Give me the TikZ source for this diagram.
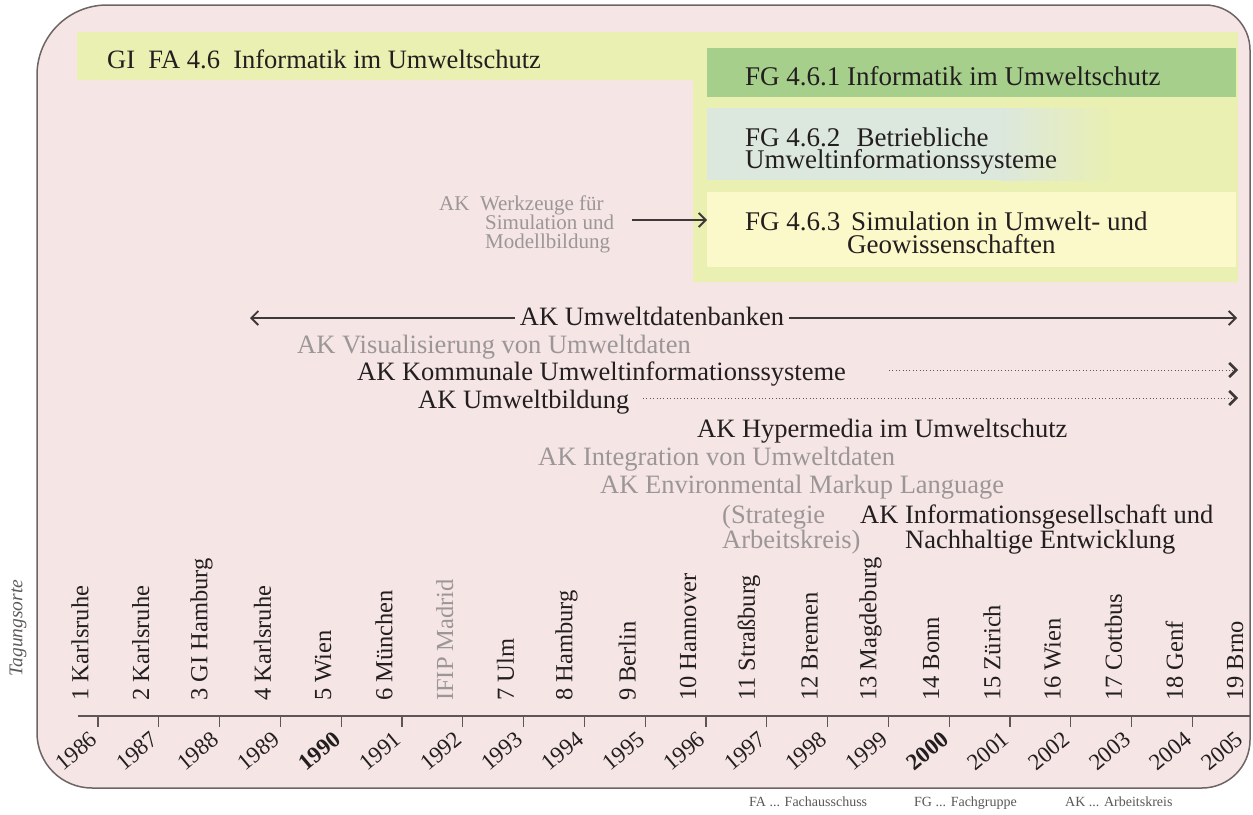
\documentclass[tikz,border=0pt]{standalone}
\usepackage{fontspec}
\setmainfont{Liberation Serif}
\usetikzlibrary{arrows.meta}
\definecolor{bgpink}{HTML}{F5E5E5}
\definecolor{framec}{HTML}{6E6466}
\definecolor{bandc}{HTML}{E9F0B2}
\definecolor{fgone}{HTML}{A6CF8C}
\definecolor{fgtwo}{HTML}{DCE7DD}
\definecolor{fgthree}{HTML}{FBF9CA}
\definecolor{darktxt}{HTML}{231E1F}
\definecolor{graytxt}{HTML}{9C9697}
\definecolor{linec}{HTML}{3E3839}
\definecolor{dotc}{HTML}{5E5658}
\definecolor{axisc}{HTML}{5E5557}
\begin{document}
\begin{tikzpicture}[x=1pt,y=-1pt,
  lbl/.style={inner sep=0pt, anchor=base west, text=darktxt, font=\fontsize{26.5}{26.5}\selectfont},
  glbl/.style={lbl, text=graytxt},
  fglbl/.style={lbl, font=\fontsize{27}{27}\selectfont},
  smalllbl/.style={lbl, text=graytxt, font=\fontsize{21}{21}\selectfont},
  place/.style={inner sep=0pt, anchor=west, rotate=90, font=\fontsize{24.5}{24.5}\selectfont},
  yearlbl/.style={inner sep=0pt, anchor=east, rotate=40, text=darktxt},
  legend/.style={inner sep=0pt, anchor=base west, text=darktxt!75, font=\fontsize{14}{14}\selectfont},
  arrowline/.style={draw=linec, line width=1.3pt},
  chev/.style={-{Straight Barb[length=7pt,width=14pt,line width=1.8pt]}},
  boldchev/.style={-{Straight Barb[length=7pt,width=14pt,line width=2.6pt,color=linec]}},
  dotline/.style={draw=dotc, line width=1pt, dash pattern=on 1pt off 2.4pt},
  axisline/.style={draw=axisc, line width=1.1pt},
]
\useasboundingbox (0,0) rectangle (1253,814);
% frame
\draw[framec, line width=1.5pt, fill=bgpink] (37,400) -- (37,75) .. controls (37,36.4) and (68.4,5) .. (107,5) -- (1205,5) .. controls (1229.8,5) and (1250,25.2) .. (1250,50) -- (1250,740) .. controls (1250,766.5) and (1228.5,788) .. (1202,788) -- (92,788) .. controls (61.6,788) and (37,763.4) .. (37,733) -- cycle;
% GI FA band
\fill[bandc] (77,32) -- (1238,32) -- (1238,282) -- (693,282) -- (693,80) -- (77,80) -- cycle;
% FG boxes
\node[fill=fgone, minimum width=529pt, minimum height=49pt, inner sep=0pt, anchor=north west] (fg1box) at (707,48) {};
\fill[fgtwo] (707,108) rectangle (1000,180);
\shade[left color=fgtwo, right color=bandc] (1000,108) rectangle (1115,180);
\node[fill=fgthree, minimum width=529pt, minimum height=75pt, inner sep=0pt, anchor=north west] (fg3box) at (707,192) {};
% texts
\node[lbl] (gifa) at (107,68) {GI\hspace{0.5em}FA 4.6\hspace{0.5em}Informatik im Umweltschutz};
\node[fglbl] (fg1t) at (745,85) {FG 4.6.1 Informatik im Umweltschutz};
\node[fglbl] (fg2a) at (745,146) {FG 4.6.2\hspace{0.6em}Betriebliche};
\node[fglbl] (fg2b) at (745,168) {Umweltinformationssysteme};
\node[fglbl] (fg3a) at (745,230) {FG 4.6.3\hspace{0.4em}Simulation in Umwelt- und};
\node[fglbl] (fg3b) at (847,253) {Geowissenschaften};
% AK Werkzeuge
\node[smalllbl] (wk1) at (439,210) {AK\hspace{0.5em}Werkzeuge für};
\node[smalllbl] (wk2) at (485,229) {Simulation und};
\node[smalllbl] (wk3) at (485,248) {Modellbildung};
\coordinate (wkarr) at (632,220);
\draw[arrowline, chev] (wkarr) -- (wkarr -| fg3box.west);
% AK Umweltdatenbanken
\node[lbl, anchor=base] (udb) at (652,325) {AK Umweltdatenbanken};
\coordinate (udbL) at (250,318);
\coordinate (udbR) at (1237,318);
\coordinate (udbLin) at ([xshift=-5pt]udb.west);
\coordinate (udbRin) at ([xshift=5pt]udb.east);
\draw[arrowline, chev] (udbLin |- udbL) -- (udbL);
\draw[arrowline, chev] (udbRin |- udbR) -- (udbR);
% other AK
\node[glbl] (vis) at (297,353) {AK Visualisierung von Umweltdaten};
\node[lbl] (kom) at (357,380) {AK Kommunale Umweltinformationssysteme};
\coordinate (komS) at (889,370);
\coordinate (komE) at (1238,370);
\draw[dotline, boldchev] (komS) -- (komE);
\node[lbl] (ubl) at (418,408) {AK Umweltbildung};
\coordinate (ublS) at (643,398);
\coordinate (ublE) at (1238,398);
\draw[dotline, boldchev] (ublS) -- (ublE);
\node[lbl] (hyp) at (697,437) {AK Hypermedia im Umweltschutz};
\node[glbl] (integ) at (538,465) {AK Integration von Umweltdaten};
\node[glbl] (eml) at (600,493) {AK Environmental Markup Language};
\node[glbl] (strat1) at (722,523) {(Strategie};
\node[glbl] (strat2) at (722,548) {Arbeitskreis)};
\node[lbl] (info1) at (860,523) {AK Informationsgesellschaft und};
\node[lbl] (info2) at (905,548) {Nachhaltige Entwicklung};
% Tagungsorte
\node[rotate=90, inner sep=0pt, text=graytxt!60!black, font=\itshape\fontsize{19.5}{19.5}\selectfont] (tag) at (18,628) {Tagungsorte};
% places
\foreach \pl/\col [count=\i from 0] in {1 Karlsruhe/darktxt, 2 Karlsruhe/darktxt, 3 GI Hamburg/darktxt, 4 Karlsruhe/darktxt, 5 Wien/darktxt, 6 München/darktxt, IFIP Madrid/graytxt, 7 Ulm/darktxt, 8 Hamburg/darktxt, 9 Berlin/darktxt, 10 Hannover/darktxt, 11 Straßburg/darktxt, 12 Bremen/darktxt, 13 Magdeburg/darktxt, 14 Bonn/darktxt, 15 Zürich/darktxt, 16 Wien/darktxt, 17 Cottbus/darktxt, 18 Genf/darktxt, 19 Brno/darktxt}
  \node[place, text=\col] (p\i) at ({80+60.8*\i},701) {\pl};
% axis
\coordinate (axL) at (78,716);
\coordinate (axR) at (1250,716);
\draw[axisline] (axL) -- (axR);
\foreach \i in {0,...,18}
  \draw[axisline] ({98+60.8*\i},716) -- ++(0,11);
% years
\foreach \yr/\ff [count=\i from 0] in {1986/\mdseries, 1987/\mdseries, 1988/\mdseries, 1989/\mdseries, 1990/\bfseries, 1991/\mdseries, 1992/\mdseries, 1993/\mdseries, 1994/\mdseries, 1995/\mdseries, 1996/\mdseries, 1997/\mdseries, 1998/\mdseries, 1999/\mdseries, 2000/\bfseries, 2001/\mdseries, 2002/\mdseries, 2003/\mdseries, 2004/\mdseries}
  \node[yearlbl, font=\fontsize{23}{23}\selectfont\ff] (y\i) at ({94+60.8*\i},736) {\yr};
\node[yearlbl, font=\fontsize{23}{23}\selectfont] (y19) at (1240,736) {2005};
% legend
\node[legend] (lfa) at (749,806) {FA ... Fachausschuss};
\node[legend] (lfg) at (914,806) {FG ... Fachgruppe};
\node[legend] (lak) at (1065,806) {AK ... Arbeitskreis};
\end{tikzpicture}
\end{document}
